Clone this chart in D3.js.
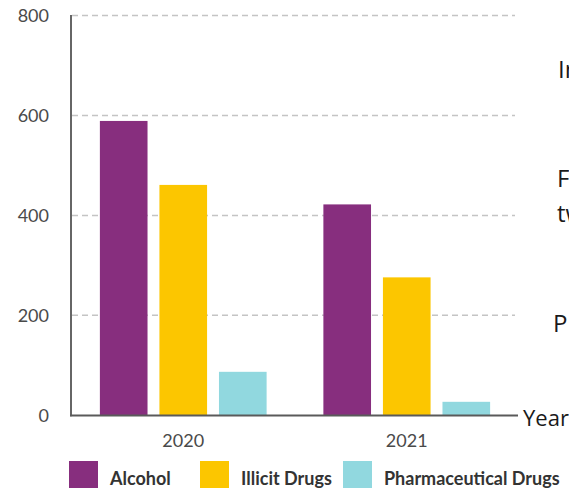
<!DOCTYPE html>
<html>
<head>
<meta charset="utf-8">
<script src="https://cdn.jsdelivr.net/npm/d3@7"></script>
<style>
  html, body { margin: 0; padding: 0; background: #fff; overflow: hidden; }
  svg { display: block; }
</style>
</head>
<body>
<svg id="chart" width="569" height="488"></svg>
<script>
const years = ["2020", "2021"];
const seriesNames = ["Alcohol", "Illicit Drugs", "Pharmaceutical Drugs"];
const alcohol = [589, 422];
const illicitDrugs = [461, 276];
const pharmaceuticalDrugs = [87, 27];
const yTicks = [0, 200, 400, 600, 800];
const colors = ["#872E7E", "#FCC600", "#91D8DF"];
const sideTexts = ["In", "F", "tw", "P"];
const axisTitle = "Year";

const valuesBySeries = [alcohol, illicitDrugs, pharmaceuticalDrugs];
const data = years.map((yr, i) => ({
  year: yr,
  values: seriesNames.map((s, j) => ({ series: s, idx: j, value: valuesBySeries[j][i] }))
}));

const svg = d3.select("#chart");

const x0 = d3.scaleBand().domain(years).range([71.5, 518.5]).paddingInner(0.254).paddingOuter(0.127);
const x1 = d3.scaleBand().domain(seriesNames).range([0, x0.bandwidth()]).paddingInner(0.2).paddingOuter(0);
const y = d3.scaleLinear().domain([0, 800]).range([415.3, 15.5]);

// gridlines
svg.append("g")
  .selectAll("line")
  .data(yTicks.filter(d => d > 0))
  .join("line")
  .attr("x1", 72).attr("x2", 515)
  .attr("y1", d => y(d)).attr("y2", d => y(d))
  .attr("stroke", "#c4c4c4")
  .attr("stroke-width", 1.5)
  .attr("stroke-dasharray", "6,4");

// y tick labels
svg.append("g")
  .selectAll("text")
  .data(yTicks)
  .join("text")
  .attr("x", 49)
  .attr("y", d => y(d))
  .attr("dy", "0.35em")
  .attr("text-anchor", "end")
  .attr("font-family", "Lato, sans-serif")
  .attr("font-size", 18)
  .attr("fill", "#4a4a4a")
  .text(d => d);

// bars
const groups = svg.append("g")
  .selectAll("g")
  .data(data)
  .join("g")
  .attr("transform", d => `translate(${x0(d.year)},0)`);

groups.selectAll("rect")
  .data(d => d.values)
  .join("rect")
  .attr("x", d => x1(d.series))
  .attr("width", x1.bandwidth())
  .attr("y", d => y(d.value))
  .attr("height", d => y(0) - y(d.value))
  .attr("fill", d => colors[d.idx]);

// y axis line
svg.append("line")
  .attr("x1", 71).attr("x2", 71)
  .attr("y1", y(800) - 0.5).attr("y2", y(0) + 1)
  .attr("stroke", "#666").attr("stroke-width", 2);

// x axis line
svg.append("line")
  .attr("x1", 70).attr("x2", 518)
  .attr("y1", y(0) + 0.2).attr("y2", y(0) + 0.2)
  .attr("stroke", "#5a5a5a").attr("stroke-width", 2);

// x tick labels
svg.append("g")
  .selectAll("text")
  .data(years)
  .join("text")
  .attr("x", d => x0(d) + x0.bandwidth() / 2)
  .attr("y", 447)
  .attr("text-anchor", "middle")
  .attr("font-family", "Lato, sans-serif")
  .attr("font-size", 18)
  .attr("fill", "#4a4a4a")
  .text(d => d);

// legend
const legendSwatchX = [69, 200, 343];
const legend = svg.append("g")
  .selectAll("g")
  .data(seriesNames)
  .join("g")
  .attr("transform", (d, i) => `translate(${legendSwatchX[i]},461)`);
legend.append("rect")
  .attr("width", 29).attr("height", 29)
  .attr("fill", (d, i) => colors[i]);
legend.append("text")
  .attr("x", 41)
  .attr("y", 23.5)
  .attr("font-family", "Lato, sans-serif")
  .attr("font-weight", "bold")
  .attr("font-size", 18)
  .attr("fill", "#333")
  .text(d => d);

// side texts (page content clipped at the right edge)
const sidePos = [[558, 78], [557, 186.5], [557, 222], [553, 331.5]];
svg.append("g")
  .selectAll("text")
  .data(sideTexts)
  .join("text")
  .attr("x", (d, i) => sidePos[i][0])
  .attr("y", (d, i) => sidePos[i][1])
  .attr("font-family", "'Open Sans', sans-serif")
  .attr("font-size", 24)
  .attr("fill", "#1a1a1a")
  .text(d => d);

svg.append("text")
  .attr("x", 523)
  .attr("y", 426)
  .attr("font-family", "'Open Sans', sans-serif")
  .attr("font-size", 22)
  .attr("fill", "#1a1a1a")
  .text(axisTitle);
</script>
</body>
</html>
